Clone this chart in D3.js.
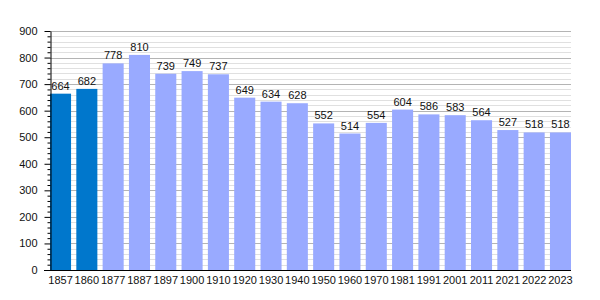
<!DOCTYPE html>
<html>
<head>
<meta charset="utf-8">
<script src="https://cdn.jsdelivr.net/npm/d3@7"></script>
<style>
  body { margin: 0; background: #fff; }
  text { font-family: "Liberation Sans", Arial, sans-serif; }
</style>
</head>
<body>
<div id="chart"></div>
<script>
// Data
const years = ["1857", "1860", "1877", "1887", "1897", "1900", "1910", "1920", "1930", "1940",
  "1950", "1960", "1970", "1981", "1991", "2001", "2011", "2021", "2022", "2023"]
const population = [664, 682, 778, 810, 739, 749, 737, 649, 634, 628,
  552, 514, 554, 604, 586, 583, 564, 527, 518, 518]
const yTicks = [0, 100, 200, 300, 400, 500, 600, 700, 800, 900]

// Dimensions
const width = 600
const height = 300
const margin = { top: 31, bottom: 30, left: 50, right: 29 }

const svg = d3.select("#chart")
  .append("svg")
  .attr("width", width)
  .attr("height", height)

// Scales
const xscale = d3.scaleBand()
  .domain(years)
  .range([margin.left, width - margin.right])
  .paddingInner(0.2)
  .paddingOuter(0)
const yscale = d3.scaleLinear()
  .domain([0, 900])
  .range([height - margin.bottom, margin.top])

// Grid lines: minor every 20, major every 100
const minor = d3.range(20, 901, 20).filter(v => v % 100 !== 0)
svg.append("g")
  .selectAll("line")
  .data(minor)
  .join("line")
  .attr("x1", margin.left)
  .attr("x2", width - margin.right)
  .attr("y1", d => Math.round(yscale(d)) + 0.5)
  .attr("y2", d => Math.round(yscale(d)) + 0.5)
  .attr("stroke", "#e0e0e0")
svg.append("g")
  .selectAll("line")
  .data(yTicks.slice(1))
  .join("line")
  .attr("x1", margin.left)
  .attr("x2", width - margin.right)
  .attr("y1", d => Math.round(yscale(d)) + 0.5)
  .attr("y2", d => Math.round(yscale(d)) + 0.5)
  .attr("stroke", "#b4b4b4")

// Bars
svg.append("g")
  .selectAll("rect")
  .data(population)
  .join("rect")
  .attr("x", (d, i) => xscale(years[i]))
  .attr("y", d => yscale(d))
  .attr("width", xscale.bandwidth())
  .attr("height", d => yscale(0) - yscale(d))
  .attr("fill", (d, i) => i < 2 ? "#0077cc" : "#99aaff")

// Value labels
svg.append("g")
  .selectAll("text")
  .data(population)
  .join("text")
  .attr("x", (d, i) => xscale(years[i]) + xscale.bandwidth() / 2)
  .attr("y", d => yscale(d) - 4)
  .attr("text-anchor", "middle")
  .attr("font-size", 11)
  .attr("fill", "#111")
  .text(d => d)

// Y axis (minor ticks then major)
svg.append("g")
  .attr("transform", `translate(${margin.left + 0.5},0)`)
  .call(d3.axisLeft(yscale).tickValues(minor).tickSize(3).tickFormat(""))
  .call(g => g.select(".domain").remove())
  .selectAll("line").attr("stroke", "#000")
const yaxis = svg.append("g")
  .attr("transform", `translate(${margin.left + 0.5},0)`)
  .call(d3.axisLeft(yscale).tickValues(yTicks).tickSize(6).tickSizeOuter(0).tickPadding(7))
yaxis.selectAll("text")
  .attr("font-size", 11)
  .attr("font-family", "Liberation Sans, Arial, sans-serif")
  .attr("fill", "#111")

// X axis
const xaxis = svg.append("g")
  .attr("transform", `translate(0,${height - margin.bottom + 0.5})`)
  .call(d3.axisBottom(xscale).tickSize(0).tickPadding(6))
xaxis.select(".domain")
  .attr("d", `M${margin.left - 6},0H${width - margin.right}`)
xaxis.selectAll("text")
  .attr("font-size", 11)
  .attr("font-family", "Liberation Sans, Arial, sans-serif")
  .attr("fill", "#111")
</script>
</body>
</html>
